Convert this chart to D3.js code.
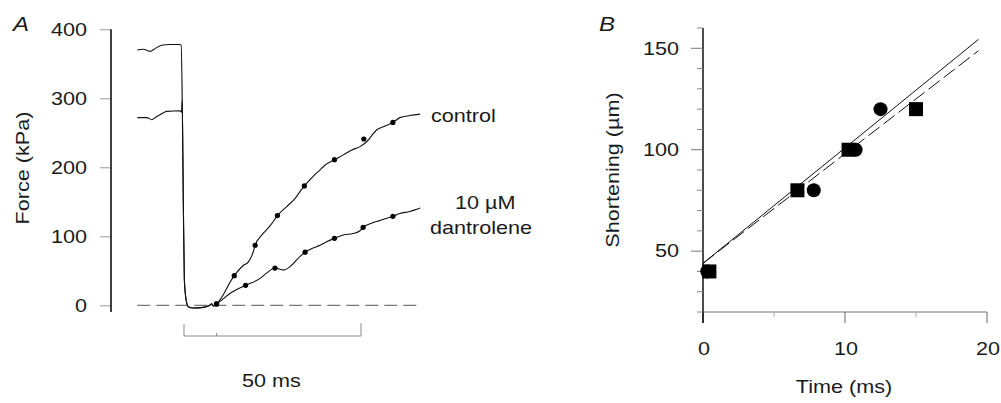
<!DOCTYPE html>
<html>
<head>
<meta charset="utf-8">
<script src="https://cdn.jsdelivr.net/npm/d3@7"></script>
<style>
  html, body { margin: 0; padding: 0; background: #fff; }
  svg { display: block; font-family: "Liberation Sans", Arial, Helvetica, sans-serif; }
  text { fill: #1a1a1a; }
</style>
</head>
<body>
<svg id="chart" width="1001" height="403"></svg>
<script>
// ---- Panel A data: force (kPa) vs time (ms), step at t = 0 ----
const forceTicks = [0, 100, 200, 300, 400];

const controlTrace = [
  [-13.2, 370], [-11.5, 371], [-9.6, 368], [-8.2, 372], [-6.3, 377], [-4.0, 378],
  [-1.3, 378], [-0.8, 377], [-0.5, 297], [-0.2, 153], [0.1, 37], [0.6, 8],
  [1.2, -2], [2.6, -4], [5.5, -3], [7.3, 0], [7.8, 2], [8.3, -1], [9.2, 2],
  [14.2, 43], [16.8, 58], [18.2, 63], [19.6, 78], [20.1, 87], [22.0, 102],
  [24.3, 115], [26.4, 130], [29.0, 143], [31.4, 155], [32.8, 165], [34.0, 173],
  [36.5, 187], [38.4, 196], [39.8, 203], [42.5, 211], [45.0, 218], [47.4, 225],
  [49.7, 230], [51.6, 237], [54.4, 254], [56.8, 260], [59.0, 265], [61.0, 272],
  [63.8, 275], [66.7, 277]
];

const dantroleneTrace = [
  [-13.2, 272], [-10.5, 272], [-9.1, 269], [-7.9, 273], [-6.8, 276], [-4.9, 281],
  [-1.1, 282], [-0.7, 280], [-0.5, 297], [-0.2, 153], [0.1, 37], [0.6, 8],
  [1.2, -2], [2.6, -4], [5.5, -3], [7.3, 0], [7.8, 2], [8.3, -1], [9.2, 2],
  [13.0, 17], [17.4, 29], [21.5, 39], [23.4, 47], [25.7, 54], [28.1, 51],
  [30.4, 58], [32.8, 71], [34.2, 77], [36.5, 83], [38.4, 87], [40.3, 92],
  [42.5, 97], [45.0, 102], [47.8, 104], [49.7, 108], [50.6, 113], [53.0, 119],
  [55.4, 123], [59.0, 129], [61.0, 133], [63.8, 136], [66.7, 141]
];

const controlDots = [[9.2, 2], [14.2, 43], [20.1, 87], [26.4, 130], [34.0, 173], [42.5, 211], [50.8, 241], [59.0, 265]];
const dantroleneDots = [[9.2, 2], [17.4, 29], [25.7, 54], [34.2, 77], [42.5, 97], [50.6, 113], [59.0, 129]];

const baselineSpan = [-13.2, 66.7];
const scaleBar = [0, 50];
const stimMark = 9.2;

// ---- Panel B data: shortening (um) vs time (ms) ----
const timeTicks = [0, 10, 20];
const timeMinorTicks = [5, 15];
const shortTicks = [50, 100, 150];
const shortMinorTicks = [20, 30, 40, 60, 70, 80, 90, 110, 120, 130, 140, 160];
const circlePts = [[0.3, 40], [7.8, 80], [10.75, 100], [12.5, 120]];
const squarePts = [[0.45, 40], [6.65, 80], [10.25, 100], [15.0, 120]];
const solidFit = [[0, 44], [19.4, 154.4]];
const dashedFit = [[0, 44], [19.4, 148.8]];

const FS = 18;      // font size
const SX = 1.2;     // horizontal stretch of the original lettering

const svg = d3.select("#chart");

function label(g, txt, x, y, opts = {}) {
  const rot = opts.rotate ? ` rotate(${opts.rotate})` : "";
  return g.append("text")
    .attr("transform", `translate(${x},${y})${rot} scale(${SX},1)`)
    .attr("text-anchor", opts.anchor || "start")
    .style("font-size", (opts.size || FS) + "px")
    .style("font-style", opts.italic ? "italic" : null)
    .text(txt);
}

// ================= Panel A =================
const xA = d3.scaleLinear().domain([0, 50]).range([184, 361]);
const yA = d3.scaleLinear().domain([0, 400]).range([305.3, 29.3]);

const gA = svg.append("g");

// y axis
const axA = gA.append("g")
  .attr("transform", "translate(111,0)")
  .call(d3.axisLeft(yA).tickValues(forceTicks).tickSize(11).tickSizeOuter(0));
axA.select(".domain").remove();
axA.selectAll(".tick line").attr("stroke", "#999");
axA.selectAll(".tick text")
  .attr("x", null).attr("dy", "0.35em")
  .attr("transform", `translate(-24,0) scale(${SX},1)`)
  .attr("fill", "#1a1a1a")
  .style("font-size", FS + "px")
  .style("font-family", "inherit");
gA.append("line")
  .attr("x1", 111).attr("x2", 111)
  .attr("y1", yA(400)).attr("y2", 312)
  .attr("stroke", "#111").attr("stroke-width", 1.6);

label(gA, "Force (kPa)", 29, 168, { rotate: -90, anchor: "middle" });
label(gA, "A", 13, 31, { italic: true, size: 20 });

// zero baseline
gA.append("line")
  .attr("x1", xA(baselineSpan[0])).attr("x2", xA(baselineSpan[1]))
  .attr("y1", yA(0)).attr("y2", yA(0))
  .attr("stroke", "#555").attr("stroke-width", 1)
  .attr("stroke-dasharray", "13,6");

const lineA = d3.line()
  .x(d => xA(d[0]))
  .y(d => yA(d[1]))
  .curve(d3.curveMonotoneX);

[controlTrace, dantroleneTrace].forEach(tr => {
  gA.append("path")
    .attr("d", lineA(tr))
    .attr("fill", "none")
    .attr("stroke", "#111")
    .attr("stroke-width", 1.1);
});

gA.selectAll("circle.dot")
  .data(controlDots.concat(dantroleneDots))
  .enter().append("circle")
    .attr("class", "dot")
    .attr("cx", d => xA(d[0]))
    .attr("cy", d => yA(d[1]))
    .attr("r", 2.6)
    .attr("fill", "#000");

// trace labels
label(gA, "control", 431, 122);
label(gA, "10 \u00b5M", 455, 209);
label(gA, "dantrolene", 430, 234);

// 50 ms scale bar
const sb = gA.append("g").attr("stroke", "#888").attr("stroke-width", 1);
sb.append("line").attr("x1", xA(scaleBar[0])).attr("x2", xA(scaleBar[1])).attr("y1", 336).attr("y2", 336);
sb.append("line").attr("x1", xA(scaleBar[0])).attr("x2", xA(scaleBar[0])).attr("y1", 324).attr("y2", 336);
sb.append("line").attr("x1", xA(scaleBar[1])).attr("x2", xA(scaleBar[1])).attr("y1", 323).attr("y2", 336);
sb.append("line").attr("x1", xA(stimMark)).attr("x2", xA(stimMark)).attr("y1", 333).attr("y2", 336);
label(gA, "50 ms", xA(25) - 1, 387, { anchor: "middle" });

// ================= Panel B =================
const xB = d3.scaleLinear().domain([0, 20]).range([703, 987]);
const yB = d3.scaleLinear().domain([20, 160]).range([312, 28]);

const gB = svg.append("g");

// x axis
gB.append("line")
  .attr("x1", xB(0)).attr("x2", xB(20)).attr("y1", yB(20)).attr("y2", yB(20))
  .attr("stroke", "#777").attr("stroke-width", 1);
gB.selectAll("line.xmaj").data(timeTicks).enter().append("line")
  .attr("x1", d => xB(d)).attr("x2", d => xB(d))
  .attr("y1", yB(20)).attr("y2", 323)
  .attr("stroke", d => d === 0 ? "#111" : "#666");
gB.selectAll("line.xmin").data(timeMinorTicks).enter().append("line")
  .attr("x1", d => xB(d)).attr("x2", d => xB(d))
  .attr("y1", yB(20)).attr("y2", 317)
  .attr("stroke", "#aaa");
timeTicks.forEach(t => label(gB, String(t), xB(t) + 1, 355, { anchor: "middle" }));
label(gB, "Time (ms)", 844, 393, { anchor: "middle" });

// y axis
gB.append("line")
  .attr("x1", 703).attr("x2", 703).attr("y1", 28).attr("y2", 323)
  .attr("stroke", "#111").attr("stroke-width", 1.5);
gB.selectAll("line.ymaj").data(shortTicks).enter().append("line")
  .attr("x1", 691).attr("x2", 703)
  .attr("y1", d => yB(d)).attr("y2", d => yB(d))
  .attr("stroke", "#777");
gB.selectAll("line.ymin").data(shortMinorTicks).enter().append("line")
  .attr("x1", 697).attr("x2", 703)
  .attr("y1", d => yB(d)).attr("y2", d => yB(d))
  .attr("stroke", "#888");
shortTicks.forEach(v => {
  label(gB, String(v), 679, yB(v), { anchor: "end" }).attr("dy", "0.35em");
});
label(gB, "Shortening (\u00b5m)", 619, 170, { rotate: -90, anchor: "middle" });
label(gB, "B", 599, 31, { italic: true, size: 20 });

// fitted lines
const lineB = d3.line().x(d => xB(d[0])).y(d => yB(d[1]));
gB.append("path").attr("d", lineB(solidFit))
  .attr("fill", "none").attr("stroke", "#111").attr("stroke-width", 1);
gB.append("path").attr("d", lineB(dashedFit))
  .attr("fill", "none").attr("stroke", "#111").attr("stroke-width", 1)
  .attr("stroke-dasharray", "14,5");

// markers
gB.selectAll("rect.sq").data(squarePts).enter().append("rect")
  .attr("x", d => xB(d[0]) - 7).attr("y", d => yB(d[1]) - 7)
  .attr("width", 14).attr("height", 14)
  .attr("fill", "#000");
gB.selectAll("circle.pt").data(circlePts).enter().append("circle")
  .attr("cx", d => xB(d[0])).attr("cy", d => yB(d[1]))
  .attr("r", 7)
  .attr("fill", "#000");
</script>
</body>
</html>
